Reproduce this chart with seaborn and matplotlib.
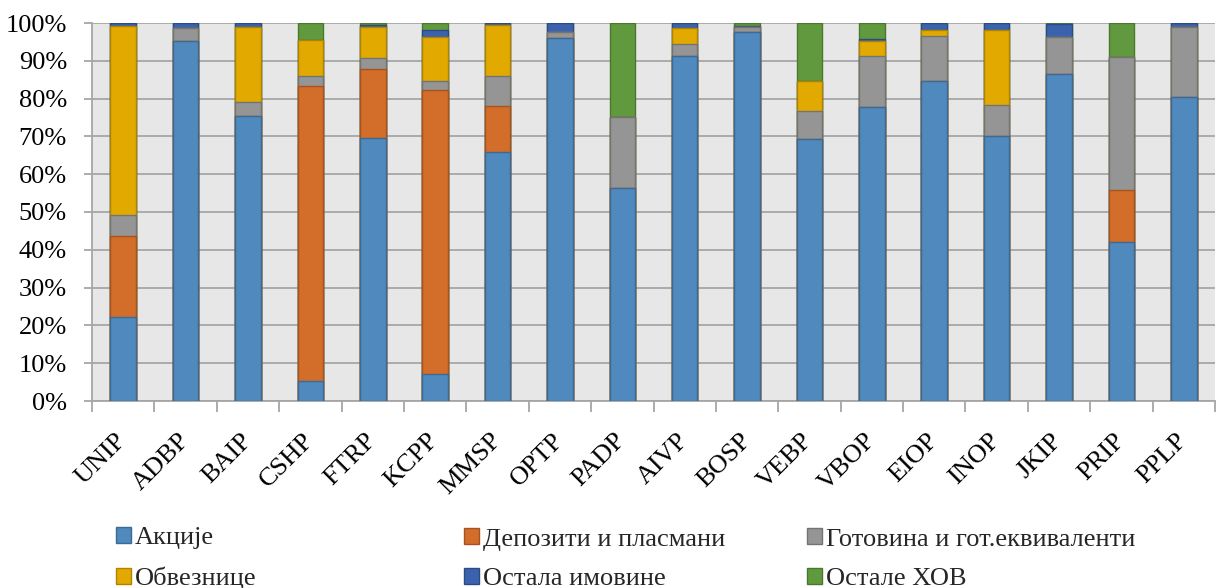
import numpy as np
import pandas as pd
import matplotlib
matplotlib.use('Agg')
import matplotlib.pyplot as plt
import seaborn as sns
from matplotlib.patches import Patch
from matplotlib.ticker import PercentFormatter, FixedLocator

# Фондови
fondovi = ['UNIP', 'ADBP', 'BAIP', 'CSHP', 'FTRP', 'KCPP', 'MMSP', 'OPTP', 'PADP',
           'AIVP', 'BOSP', 'VEBP', 'VBOP', 'EIOP', 'INOP', 'JKIP', 'PRIP', 'PPLP']

# Структура имовине (%)
akcije    = [22.3, 95.2, 75.4, 5.2, 69.7, 7.1, 65.9, 96.0, 56.4, 91.2, 97.6, 69.4, 77.8, 84.7, 70.1, 86.5, 42.0, 80.4]
depoziti  = [21.3, 0.0, 0.0, 78.2, 18.1, 75.1, 12.2, 0.0, 0.0, 0.0, 0.0, 0.0, 0.0, 0.0, 0.0, 0.0, 13.7, 0.0]
gotovina  = [5.7, 3.5, 3.8, 2.5, 3.0, 2.5, 7.8, 1.6, 18.7, 3.3, 1.3, 7.4, 13.5, 11.8, 8.2, 9.8, 35.4, 18.5]
obveznice = [49.8, 0.0, 19.7, 9.7, 8.1, 11.7, 13.7, 0.0, 0.0, 4.2, 0.0, 7.9, 4.0, 1.6, 19.9, 0.0, 0.0, 0.0]
ostala    = [0.9, 1.3, 1.1, 0.0, 0.7, 1.7, 0.4, 2.4, 0.0, 1.3, 0.3, 0.0, 0.4, 1.9, 1.8, 3.4, 0.0, 1.1]
ostale_hov = [0.0, 0.0, 0.0, 4.4, 0.4, 1.9, 0.0, 0.0, 24.9, 0.0, 0.8, 15.3, 4.3, 0.0, 0.0, 0.3, 8.9, 0.0]

kategorije = ['Акције', 'Депозити и пласмани', 'Готовина и гот.еквиваленти',
              'Обвезнице', 'Остала имовине', 'Остале ХОВ']
boje = ['#4F89BD', '#D36D2A', '#959595', '#E2AA00', '#3A62AD', '#619A3E']
ivice = ['#3C6A94', '#A5531F', '#737373', '#AD8300', '#2C4B86', '#4A772F']

serije = [akcije, depoziti, gotovina, obveznice, ostala, ostale_hov]
df = pd.DataFrame({k: v for k, v in zip(kategorije, serije)}, index=fondovi)
kum = df.cumsum(axis=1)

sns.set_theme(style='white')
plt.rcParams['font.family'] = ['Liberation Serif', 'DejaVu Serif']

fig = plt.figure(figsize=(12.18, 5.88), dpi=100)
ax = fig.add_axes([92 / 1218, 1 - 401 / 588, 1123 / 1218, 378 / 588])
ax.set_facecolor('#E7E7E7')

# naslagani stubovi: crtamo kumulativne vrednosti odozgo nadole
for i in range(len(kategorije) - 1, -1, -1):
    d = pd.DataFrame({'fond': fondovi, 'v': kum.iloc[:, i].values})
    sns.barplot(data=d, x='fond', y='v', color=boje[i], width=0.41,
                edgecolor=ivice[i], linewidth=1.0, saturation=1, ax=ax, zorder=3)

ax.set_ylim(0, 100)
ax.set_xlim(-0.5, len(fondovi) - 0.5)
ax.set_yticks(np.arange(0, 101, 10))
ax.yaxis.set_major_formatter(PercentFormatter(decimals=0))
ax.grid(axis='y', color='#A6A6A6', linewidth=1.3, zorder=0)
ax.set_axisbelow(True)
ax.set_xlabel('')
ax.set_ylabel('')

for s in ['top', 'right']:
    ax.spines[s].set_visible(False)
for s in ['left', 'bottom']:
    ax.spines[s].set_color('#A6A6A6')
    ax.spines[s].set_linewidth(1.3)

ax.xaxis.set_minor_locator(FixedLocator(np.arange(-0.5, len(fondovi), 1)))
ax.tick_params(axis='x', which='major', length=0, pad=26)
ax.tick_params(axis='x', which='minor', length=8, color='#A6A6A6', width=1.3, bottom=True)
ax.tick_params(axis='y', length=6, color='#A6A6A6', width=1.3, left=True, pad=12,
               labelsize=19, labelcolor='black')
ax.set_xticks(range(len(fondovi)))
ax.set_xticklabels(fondovi, rotation=45, ha='right', va='center', rotation_mode='anchor',
                   fontsize=19, color='black')

ruke = [Patch(facecolor=b, edgecolor=e, label=k) for b, e, k in zip(boje, ivice, kategorije)]
# tri kolone legende, svaka sa dva reda
kolone_x = [98, 446, 789]
for c in range(3):
    idx = [c, c + 3]
    leg = fig.legend([ruke[i] for i in idx], [kategorije[i] for i in idx], ncol=1,
                     loc='lower left', bbox_to_anchor=(kolone_x[c] / 1218, -0.035),
                     frameon=False, fontsize=19, handlelength=0.55, handleheight=0.55,
                     handletextpad=0.15, labelspacing=0.65, borderpad=0.2)

fig.savefig('out.png', dpi=100)
